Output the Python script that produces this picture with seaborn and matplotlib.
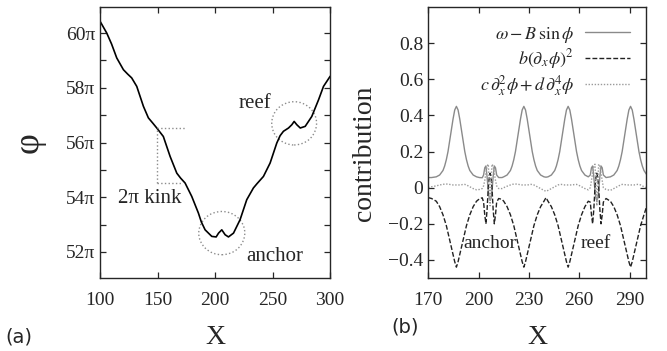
import numpy as np
import pandas as pd
import matplotlib
matplotlib.use("Agg")
import matplotlib.pyplot as plt
from matplotlib.patches import Ellipse
import seaborn as sns

# ---------------- data: panel (a) -----------------
phi_x = [100, 105.8, 110, 114.5, 120.3, 124, 127.5, 131.9, 137.7, 142, 146, 149.3, 155,
         160.9, 166.7, 170, 173.9, 179.7, 185.5, 188, 191.3, 197.1, 200.9, 203, 205.8,
         208.7, 211.6, 216, 221.7, 227.5, 233.3, 236.5, 242, 247.8, 253.6, 256.5, 259.4,
         263.8, 266.7, 268.7, 271, 274, 278.3, 284, 289.9, 294.2, 300]
phi_y = [60.43, 60.0, 59.6, 59.09, 58.66, 58.5, 58.36, 58.05, 57.32, 56.9, 56.7, 56.53, 56.22,
         55.49, 54.88, 54.7, 54.52, 54.03, 53.42, 53.1, 52.81, 52.57, 52.55, 52.69, 52.81,
         52.63, 52.55, 52.69, 53.18, 53.91, 54.34, 54.5, 54.76, 55.25, 55.98, 56.25, 56.41,
         56.53, 56.65, 56.77, 56.65, 56.53, 56.59, 56.95, 57.56, 58.05, 58.42]
phi_ticks = [52, 54, 56, 58, 60]

# ---------------- data: panel (b) -----------------
xb = ([170, 172, 174.8, 176.8, 178.8, 179.8, 180.8, 181.8, 182.8, 183.8, 184.8, 185.8, 186.8,
       187.8, 188.8, 189.8, 190.8, 191.8, 192.8, 193.8, 194.8, 196.8, 198.8, 200.5, 202.2]
      + [203.0, 203.7, 204.4, 205.1, 205.8, 206.4, 206.9, 207.4, 208.0, 208.7, 209.4, 210.1, 210.8, 212.0]
      + [214, 215, 217, 219, 220, 221, 222, 223, 224, 225, 226, 227, 228, 229, 230, 231, 232,
         233, 234, 235, 237, 239, 240.2]
      + [241.4, 243.4, 245.4, 246.4, 247.4, 248.4, 249.4, 250.4, 251.4, 252.4, 253.4, 254.4,
         255.4, 256.4, 257.4, 258.4, 259.4, 260.4, 261.4, 263.4, 265.4]
      + [266.6, 267.3, 268.0, 268.7, 269.4, 270.0, 270.5, 271.0, 271.6, 272.3, 273.0, 273.7, 274.4, 276.0]
      + [278.6, 280.6, 282.6, 283.6, 284.6, 285.6, 286.6, 287.6, 288.6, 289.6, 290.6, 291.6,
         292.6, 293.6, 294.6, 295.6, 296.6, 297.6, 298.6, 300])

omega_term = ([0.056, 0.056, 0.06, 0.07, 0.095, 0.12, 0.155, 0.20, 0.26, 0.32, 0.38, 0.43, 0.45,
               0.43, 0.38, 0.32, 0.26, 0.20, 0.155, 0.12, 0.095, 0.07, 0.06, 0.056, 0.055]
              + [0.07, 0.11, 0.12, 0.06, -0.02, -0.06, -0.07, -0.06, -0.02, 0.06, 0.12, 0.11, 0.07, 0.056]
              + [0.056, 0.06, 0.07, 0.095, 0.12, 0.155, 0.20, 0.26, 0.32, 0.38, 0.43, 0.45, 0.43,
                 0.38, 0.32, 0.26, 0.20, 0.155, 0.12, 0.095, 0.07, 0.06, 0.058]
              + [0.06, 0.07, 0.095, 0.12, 0.155, 0.20, 0.26, 0.32, 0.38, 0.43, 0.45, 0.43, 0.38,
                 0.32, 0.26, 0.20, 0.155, 0.12, 0.095, 0.07, 0.06]
              + [0.07, 0.11, 0.12, 0.06, -0.02, -0.06, -0.07, -0.06, -0.02, 0.06, 0.12, 0.11, 0.07, 0.056]
              + [0.06, 0.07, 0.095, 0.12, 0.155, 0.20, 0.26, 0.32, 0.38, 0.43, 0.45, 0.43, 0.38,
                 0.32, 0.26, 0.20, 0.155, 0.12, 0.095, 0.075])

grad_term = ([-0.055, -0.06, -0.075, -0.105, -0.15, -0.18, -0.21, -0.25, -0.29, -0.33, -0.37, -0.41, -0.44,
              -0.41, -0.37, -0.33, -0.29, -0.25, -0.21, -0.18, -0.15, -0.105, -0.075, -0.062, -0.056]
             + [-0.08, -0.15, -0.20, -0.12, 0.0, 0.06, 0.08, 0.06, 0.0, -0.12, -0.20, -0.15, -0.08, -0.06]
             + [-0.065, -0.075, -0.105, -0.15, -0.18, -0.21, -0.25, -0.29, -0.33, -0.37, -0.41, -0.44,
                -0.41, -0.37, -0.33, -0.29, -0.25, -0.21, -0.18, -0.15, -0.105, -0.075, -0.055]
             + [-0.075, -0.105, -0.15, -0.18, -0.21, -0.25, -0.29, -0.33, -0.37, -0.41, -0.44, -0.41,
                -0.37, -0.33, -0.29, -0.25, -0.21, -0.18, -0.15, -0.105, -0.075]
             + [-0.08, -0.15, -0.20, -0.12, 0.0, 0.06, 0.08, 0.06, 0.0, -0.12, -0.20, -0.15, -0.08, -0.06]
             + [-0.075, -0.105, -0.15, -0.18, -0.21, -0.25, -0.29, -0.33, -0.37, -0.41, -0.44, -0.41,
                -0.37, -0.33, -0.29, -0.25, -0.21, -0.18, -0.15, -0.11])

deriv_term = ([0.0, 0.005, 0.01, 0.015, 0.018, 0.02, 0.02, 0.02, 0.018, 0.016, 0.015, 0.015, 0.015,
               0.015, 0.015, 0.016, 0.018, 0.018, 0.015, 0.01, 0.005, -0.005, -0.012, -0.01, -0.005]
              + [0.01, 0.04, 0.08, 0.12, 0.13, 0.02, -0.1, 0.02, 0.13, 0.12, 0.08, 0.04, 0.01, -0.005]
              + [-0.005, 0.0, 0.008, 0.015, 0.018, 0.02, 0.02, 0.02, 0.018, 0.016, 0.015, 0.015, 0.015,
                 0.015, 0.016, 0.018, 0.018, 0.015, 0.01, 0.005, -0.005, -0.015, -0.02]
              + [-0.015, -0.005, 0.005, 0.01, 0.015, 0.018, 0.018, 0.016, 0.015, 0.015, 0.015, 0.015,
                 0.015, 0.016, 0.018, 0.018, 0.015, 0.01, 0.005, -0.005, -0.012]
              + [0.0, 0.04, 0.08, 0.12, 0.13, 0.02, -0.1, 0.02, 0.13, 0.12, 0.08, 0.04, 0.0, -0.01]
              + [-0.015, -0.005, 0.005, 0.01, 0.015, 0.018, 0.018, 0.016, 0.015, 0.015, 0.015, 0.015,
                 0.015, 0.016, 0.018, 0.018, 0.015, 0.01, 0.005, 0.0])

labels_b = [r'$\omega - B\,\sin\phi$', r'$b(\partial_x\phi)^2$',
            r'$c\,\partial_x^2\phi + d\,\partial_x^4\phi$']
b_yticks = [-0.4, -0.2, 0, 0.2, 0.4, 0.6, 0.8]
b_yticklabels = ['\u22120.4', '\u22120.2', '0', '0.2', '0.4', '0.6', '0.8']
b_xticks = [170, 200, 230, 260, 290]

assert len(xb) == len(omega_term) == len(grad_term) == len(deriv_term)
assert len(phi_x) == len(phi_y)

# ---------------- style -----------------
sns.set_theme(style="ticks")
plt.rcParams['font.family'] = ['Liberation Serif', 'DejaVu Serif']
plt.rcParams['mathtext.fontset'] = 'stix'
plt.rcParams['axes.linewidth'] = 1.0
plt.rcParams['xtick.direction'] = 'in'
plt.rcParams['ytick.direction'] = 'in'

fig = plt.figure(figsize=(6.67, 3.51), dpi=100)
ax1 = fig.add_axes([0.150, 0.208, 0.345, 0.772])
ax2 = fig.add_axes([0.642, 0.208, 0.327, 0.772])

# ---------------- panel (a) -----------------
dfa = pd.DataFrame({'x': phi_x, 'phi': phi_y})
sns.lineplot(data=dfa, x='x', y='phi', ax=ax1, color='black', lw=1.2, estimator=None, sort=False)
ax1.set_xlim(100, 300)
ax1.set_ylim(51.05, 60.95)
ax1.set_xticks([100, 150, 200, 250, 300])
ax1.set_yticks(phi_ticks)
ax1.set_yticks([53, 55, 57, 59], minor=True)
ax1.set_yticklabels([f'{t}\u03c0' for t in phi_ticks])
ax1.tick_params(which='both', top=True, right=True, labelsize=14, length=4, width=0.9)
ax1.tick_params(axis='x', pad=10)
ax1.set_xlabel('')
ax1.set_ylabel('')
gray = '#8c8c8c'
ax1.plot([149.5, 149.5], [54.52, 56.53], ls=':', color=gray, lw=1)
ax1.plot([149.5, 174], [56.53, 56.53], ls=':', color=gray, lw=1)
ax1.plot([149.5, 171], [54.52, 54.52], ls=':', color=gray, lw=1)
ax1.add_patch(Ellipse((268.7, 56.7), 39, 1.58, fill=False, ls=':', ec=gray, lw=1))
ax1.add_patch(Ellipse((205.8, 52.69), 40, 1.58, fill=False, ls=':', ec=gray, lw=1))
ax1.text(116, 53.95, '2\u03c0 kink', fontsize=15, va='center', ha='left')
ax1.text(235, 57.44, 'reef', fontsize=15, va='center', ha='center')
ax1.text(252, 51.84, 'anchor', fontsize=15, va='center', ha='center')

# ---------------- panel (b) -----------------
dfb = pd.DataFrame({'x': xb * 3,
                    'value': omega_term + grad_term + deriv_term,
                    'term': [labels_b[0]] * len(xb) + [labels_b[1]] * len(xb) + [labels_b[2]] * len(xb)})
sns.lineplot(data=dfb, x='x', y='value', hue='term', style='term', ax=ax2,
             palette={labels_b[0]: '#8a8a8a', labels_b[1]: '#222222', labels_b[2]: '#9a9a9a'},
             dashes={labels_b[0]: '', labels_b[1]: (3.5, 1.5), labels_b[2]: (1, 1.2)},
             lw=1.0, estimator=None, sort=False)
ax2.set_xlim(170, 300)
ax2.set_ylim(-0.5, 1.0)
ax2.set_xticks(b_xticks)
ax2.set_yticks(b_yticks)
ax2.set_yticklabels(b_yticklabels)
ax2.tick_params(which='both', top=True, right=True, labelsize=14, length=4, width=0.9)
ax2.tick_params(axis='x', pad=10)
ax2.set_xlabel('')
ax2.set_ylabel('contribution', fontsize=20)
ax2.yaxis.set_label_coords(-0.235, 0.46)
handles, labs = ax2.get_legend_handles_labels()
ax2.legend(handles, labs, loc='upper right', bbox_to_anchor=(1.0, 0.995), frameon=False,
           markerfirst=False, handlelength=2.5, fontsize=13, labelspacing=0.12, handletextpad=0.6)
ax2.text(206.5, -0.31, 'anchor', fontsize=14, ha='center', va='center')
ax2.text(270, -0.31, 'reef', fontsize=14, ha='center', va='center')

# ---------------- figure labels -----------------
fig.text(29 / 667, 1 - 143 / 351, '\u03c6', fontsize=26, rotation=90, ha='center', va='center')
fig.text(215 / 667, 1 - 338 / 351, 'X', fontsize=20, ha='center', va='center')
fig.text(537 / 667, 1 - 338 / 351, 'X', fontsize=20, ha='center', va='center')
fig.text(19 / 667, 1 - 337 / 351, '(a)', fontsize=14, ha='center', va='center', family='DejaVu Sans')
fig.text(405 / 667, 1 - 327 / 351, '(b)', fontsize=14, ha='center', va='center', family='DejaVu Sans')

fig.savefig('out.png', dpi=100)
